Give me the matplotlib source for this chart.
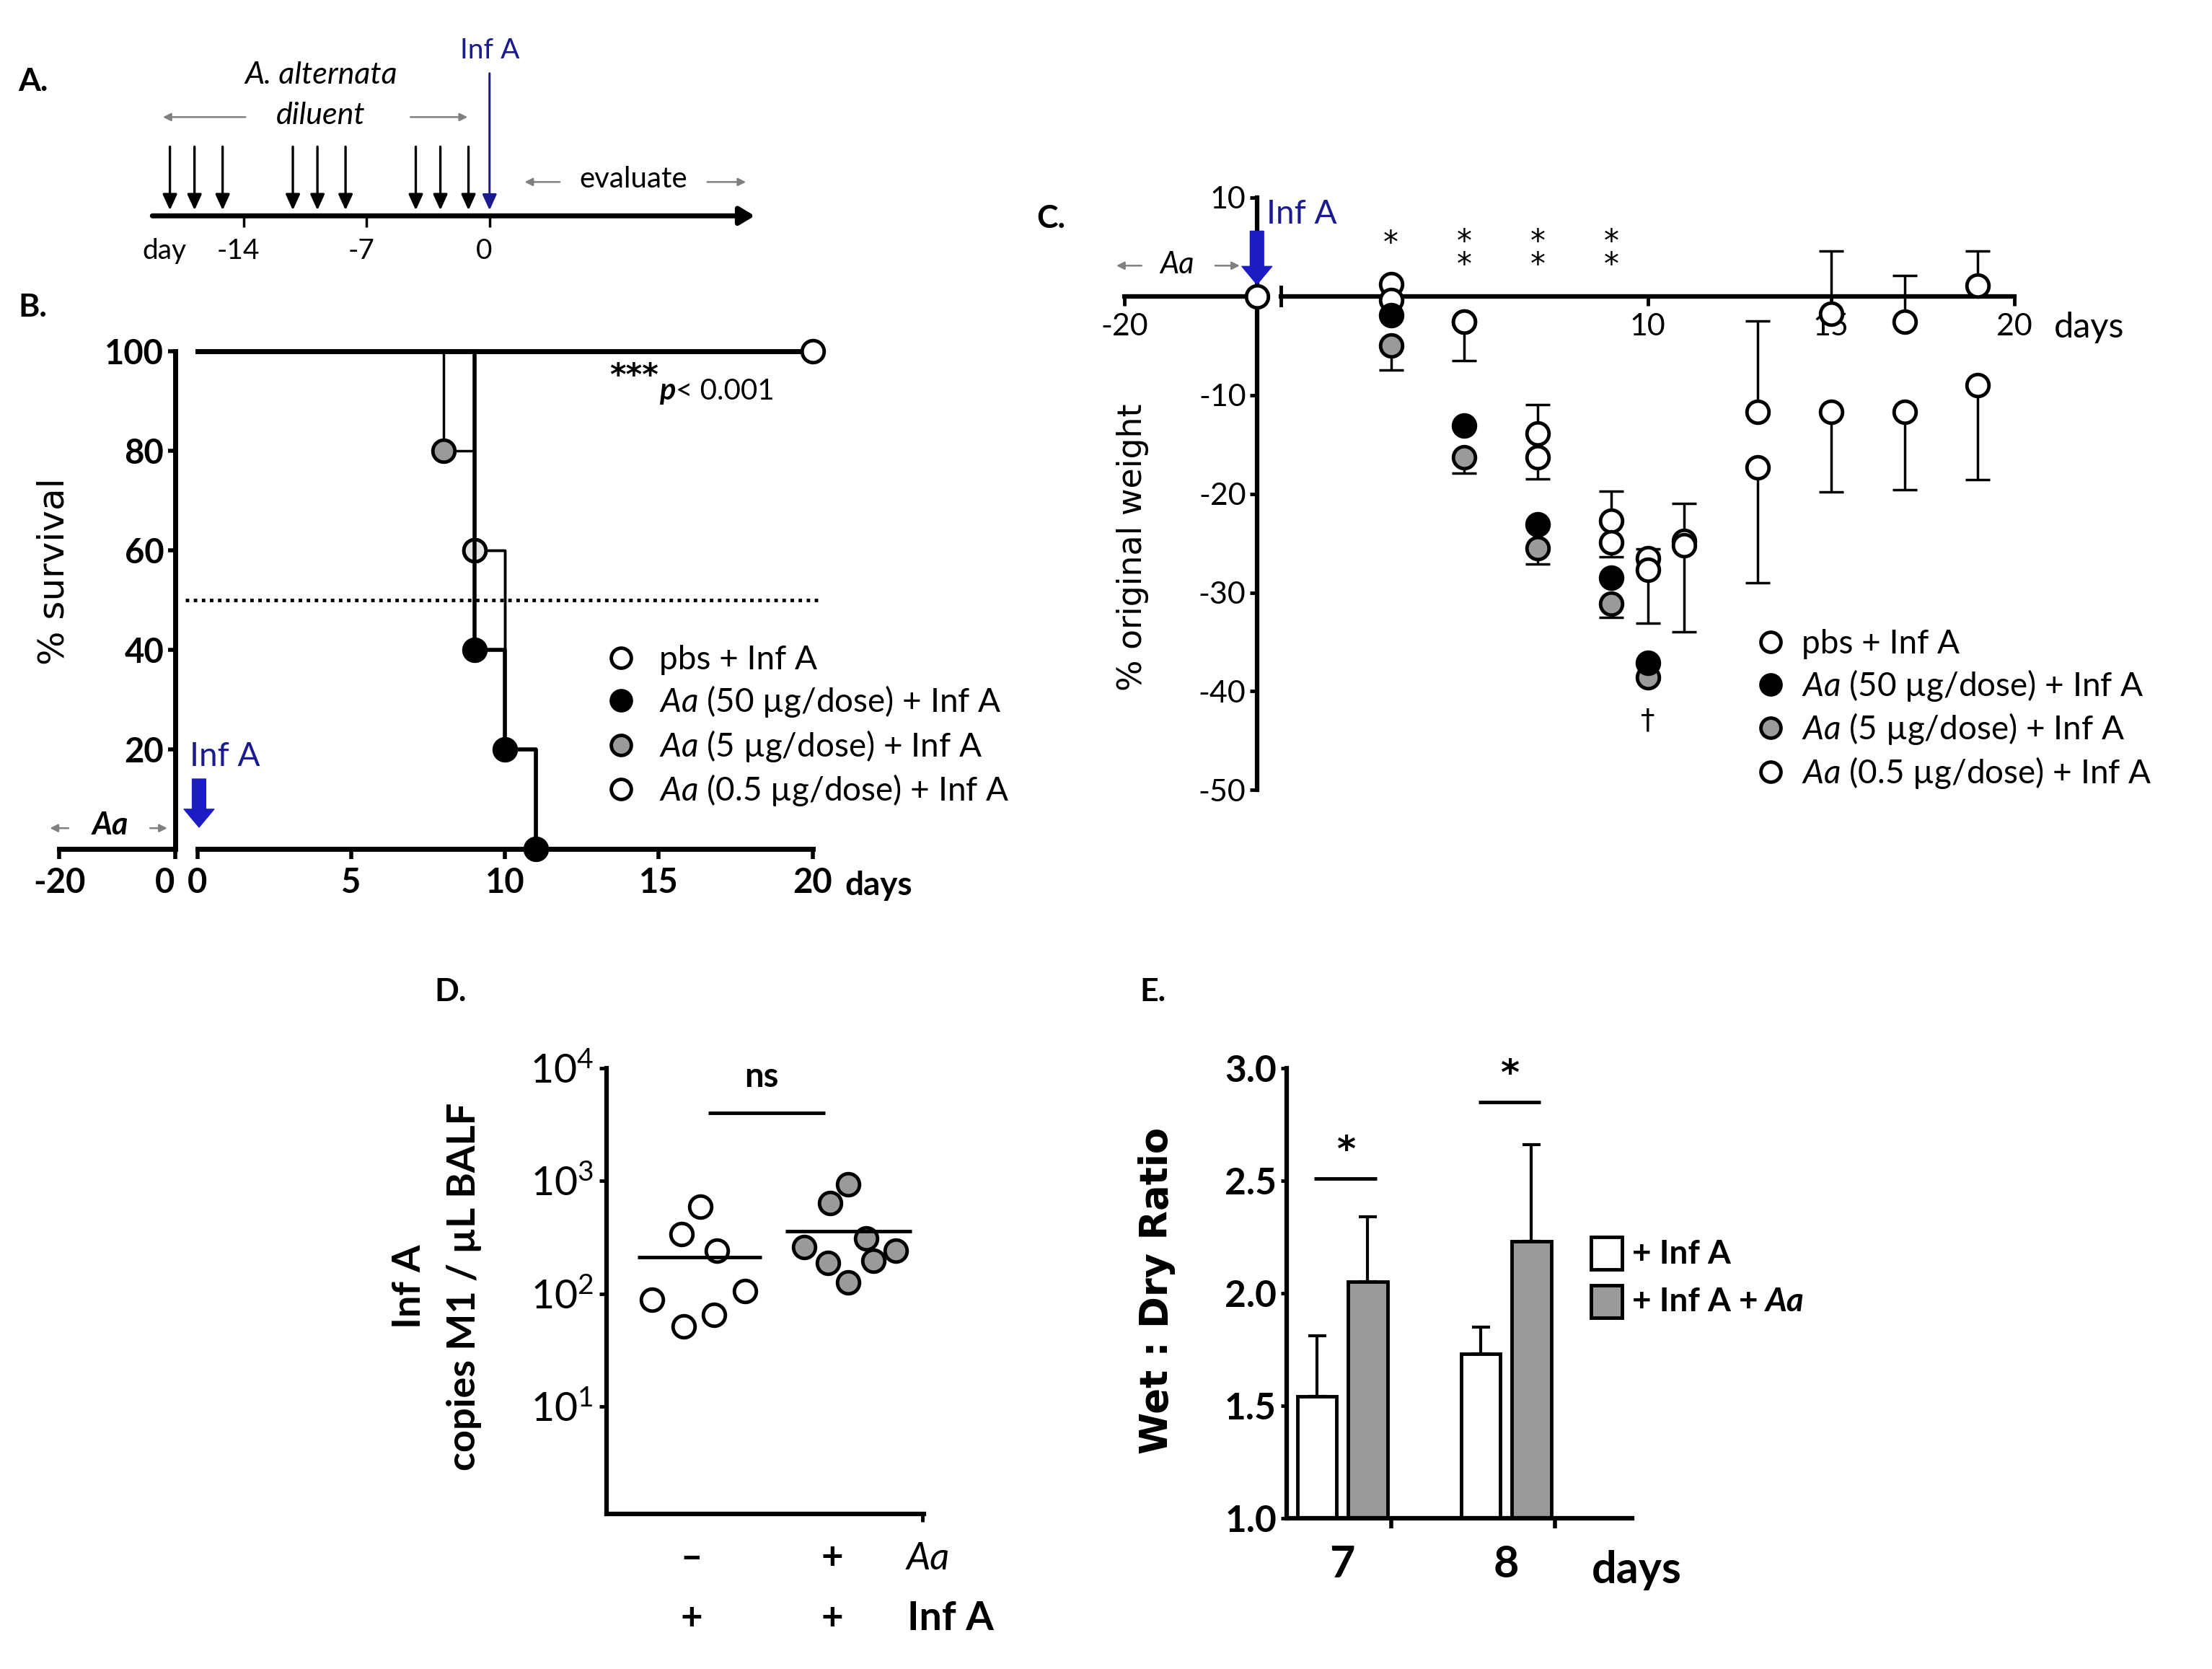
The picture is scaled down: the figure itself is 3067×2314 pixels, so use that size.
import matplotlib
matplotlib.use('Agg')
import matplotlib.pyplot as plt
import matplotlib.patches as ptc
from matplotlib.lines import Line2D
import numpy as np

plt.rcParams['font.family'] = ['Lato', 'DejaVu Sans']
plt.rcParams['mathtext.fontset'] = 'custom'
plt.rcParams['mathtext.rm'] = 'Lato'
plt.rcParams['mathtext.it'] = 'Lato:italic'
plt.rcParams['mathtext.bf'] = 'Lato:bold'
plt.rcParams['axes.unicode_minus'] = False

# ---- data ----
# A : dosing schedule (days)
dose_days = [-18.2, -16.8, -15.2, -11.2, -9.8, -8.2, -4.2, -2.8, -1.2]
inf_day = 0
sched_ticks = [-14, -7, 0]
sched_labels = ['-14', '-7', '0']

# B : survival (%)
surv_pbs_days = [0, 20]
surv_pbs = [100, 100]
surv_50_days = [0, 9, 10, 11]
surv_50 = [100, 40, 20, 0]
surv_5_days = [0, 8, 9, 10, 11]
surv_5 = [100, 80, 60, 20, 0]
surv_05_days = [0, 9, 10, 11]
surv_05 = [100, 60, 20, 0]

# C : % original weight
days_c = [0, 3, 5, 7, 9, 10, 11, 13, 15, 17, 19]
wt_pbs = [0, 1.2, -2.6, -13.9, -22.7, -26.5, -24.8, -11.7, -1.8, -2.6, 1.1]
wt_pbs_up = [0, 0, 0, 2.9, 3.0, 0.9, 3.8, 9.2, 6.4, 4.7, 3.5]
wt_05 = [0, -0.4, -2.6, -16.3, -24.9, -27.7, -25.2, -17.3, -11.7, -11.7, -9.0]
wt_05_dn = [0, 0, 3.9, 2.2, 1.5, 5.4, 8.8, 11.7, 8.1, 7.9, 9.6]
days_c_aa = [3, 5, 7, 9, 10]
wt_50 = [-1.9, -13.1, -23.1, -28.5, -37.1]
wt_5 = [-5.0, -16.3, -25.5, -31.1, -38.6]
wt_5_dn = [2.5, 1.6, 1.6, 1.4, 0]
star_days_1 = [3]
star_days_2 = [5, 7, 9]
dagger_day = 10

# D : Inf A copies M1 / uL BALF
infA_minus = [589, 339, 240, 89, 51, 65, 105]
infA_minus_dx = [0.065, -0.07, 0.18, -0.28, -0.055, 0.16, 0.38]
infA_plus = [936, 631, 257, 186, 126, 310, 197, 240]
infA_plus_dx = [0.11, -0.016, -0.2, -0.03, 0.11, 0.24, 0.29, 0.45]

# E : wet : dry ratio
e_days = ['7', '8']
wd_infA = [1.54, 1.73]
wd_infA_err = [0.27, 0.12]
wd_infA_aa = [2.05, 2.23]
wd_infA_aa_err = [0.29, 0.43]
e_sig_y = [2.51, 2.85]

# ---- layout helpers (reference grid 1568 x 1183) ----
W, H = 1568, 1183
PT = 1.408  # points per grid pixel


def box(x0, y0, x1, y1):
    return [x0 / W, 1 - y1 / H, (x1 - x0) / W, (y1 - y0) / H]


def fp(x, y):
    return (x / W, 1 - y / H)


fig = plt.figure(figsize=(30.67, 23.14), dpi=100)
BLUE = '#1c1cc4'
NAVY = '#1b1b8f'
GRAY = '#9a9a9a'


def garrow(ax, x0, x1, y, **kw):
    ax.annotate('', xy=(x1, y), xytext=(x0, y),
                arrowprops=dict(arrowstyle='-|>', color='#808080', lw=1.8,
                                mutation_scale=16, shrinkA=0, shrinkB=0), **kw)


def blue_arrow(ax, x, y0, y1):
    ax.annotate('', xy=(x, y1), xytext=(x, y0),
                arrowprops=dict(arrowstyle='simple,head_length=0.6,head_width=1.0,tail_width=0.45',
                                color=BLUE, mutation_scale=30, shrinkA=0, shrinkB=0),
                annotation_clip=False)


# ================= A =================
fig.text(*fp(13, 58), 'A.', fontsize=32, fontweight='bold', va='center')
axA = fig.add_axes(box(108, 20, 535, 200))
axA.set_xlim(-19.2, 15.1)
axA.set_ylim(200, 20)
axA.axis('off')
axA.annotate('', xy=(15.1, 153), xytext=(-19.2, 153),
             arrowprops=dict(arrowstyle='-|>,head_length=0.5,head_width=0.3', lw=5,
                             color='black', mutation_scale=25, shrinkA=0, shrinkB=0))
axA.vlines(sched_ticks, 153, 161, color='black', lw=2.5)
for d in dose_days:
    axA.annotate('', xy=(d, 149), xytext=(d, 104),
                 arrowprops=dict(arrowstyle='-|>,head_length=0.55,head_width=0.25', lw=2.4,
                                 color='black', mutation_scale=24, shrinkA=0, shrinkB=0))
axA.annotate('', xy=(inf_day, 149), xytext=(inf_day, 52),
             arrowprops=dict(arrowstyle='-|>,head_length=0.55,head_width=0.25', lw=2.2,
                             color=NAVY, mutation_scale=24, shrinkA=0, shrinkB=0))
axA.text(inf_day, 36, 'Inf A', color=NAVY, ha='center', va='center', fontsize=28)
axA.text(-9.6, 53, 'A. alternata', style='italic', ha='center', va='center', fontsize=31)
axA.text(-9.6, 82, 'diluent', style='italic', ha='center', va='center', fontsize=31)
garrow(axA, -13.9, -18.6, 83)
garrow(axA, -4.5, -1.25, 83)
axA.text(8.2, 127, 'evaluate', ha='center', va='center', fontsize=29)
garrow(axA, 4.0, 2.0, 129)
garrow(axA, 12.4, 14.6, 129)
axA.text(-18.5, 178, 'day', ha='center', va='center', fontsize=28)
for t, l in zip(sched_ticks, sched_labels):
    axA.text(t - 0.3, 178, l, ha='center', va='center', fontsize=28)

# ================= B =================
fig.text(*fp(13, 218), 'B.', fontsize=32, fontweight='bold', va='center')
axB = fig.add_axes(box(140, 249, 576, 601.5))
axBL = fig.add_axes(box(42, 249, 124, 601.5))
for a in (axB, axBL):
    a.set_ylim(0, 100)
    a.patch.set_alpha(0)
    a.spines[['top', 'right']].set_visible(False)
    a.spines['bottom'].set_linewidth(5)
    a.tick_params(axis='x', direction='out', length=10, width=4, labelsize=34, pad=8)
axB.set_xlim(0, 20)
axBL.set_xlim(-20, 0)
axBL.spines['left'].set_visible(False)
axBL.set_yticks([])
axB.spines['left'].set_position(('outward', 16 * PT))
axB.spines['left'].set_linewidth(5)
axB.set_yticks([20, 40, 60, 80, 100])
axB.tick_params(axis='y', direction='out', length=7, width=4, labelsize=34, pad=4)
axB.set_xticks([0, 5, 10, 15, 20])
axBL.set_xticks([-20, 0])
for a in (axB, axBL):
    for lab in a.get_xticklabels() + a.get_yticklabels():
        lab.set_fontweight('bold')
axBL.get_xticklabels()[1].set_horizontalalignment('right')

axB.hlines(50, -0.4, 20.2, colors='black', linestyles=(0, (1, 1.3)), lw=3.5, clip_on=False)
mk = dict(marker='o', ms=22, mew=3.5, mec='black', clip_on=False)
axB.plot(surv_pbs_days, surv_pbs, drawstyle='steps-post', color='black', lw=5,
         mfc='white', markevery=[1], zorder=4, **mk)
axB.plot(surv_5_days, surv_5, drawstyle='steps-post', color='black', lw=2.5,
         mfc=GRAY, markevery=[1, 2], zorder=3, **mk)
axB.plot(surv_05_days, surv_05, drawstyle='steps-post', color='black', lw=2.5,
         mfc='#e6e6e6', markevery=[1], zorder=3, **mk)
axB.plot(surv_50_days, surv_50, drawstyle='steps-post', color='black', lw=4,
         mfc='black', markevery=[1, 2, 3], zorder=4, **mk)

t1 = axB.text(13.4, 93.2, '***', fontsize=31, fontweight='bold', ha='left', va='baseline',
              family='DejaVu Sans')
t2 = axB.annotate('p', xy=(1, 0), xycoords=t1, xytext=(1, -8), textcoords='offset points',
                  fontsize=30, fontweight='bold', style='italic', ha='left', va='baseline')
axB.annotate('< 0.001', xy=(1, 0), xycoords=t2, xytext=(0, 0), textcoords='offset points',
             fontsize=29, ha='left', va='bottom')
fig.text(*fp(623, 628), 'days', fontsize=33, fontweight='bold', ha='center', va='center')
fig.text(*fp(38, 405), '% survival', fontsize=36, rotation=90, family='DejaVu Sans',
         ha='center', va='center')

axB.text(-0.25, 18.5, 'Inf A', color=NAVY, fontsize=33, ha='left', va='center')
blue_arrow(axB, 0.05, 14, 4.3)
fig.text(*fp(78, 585), 'Aa', fontsize=31, style='italic', fontweight='bold', ha='center', va='center')
for xa, xb in [(50, 34), (105, 120)]:
    fig.add_artist(ptc.FancyArrowPatch(fp(xa, 587), fp(xb, 587), transform=fig.transFigure,
                                       arrowstyle='-|>', color='#808080', lw=1.8, mutation_scale=16))

legB = [Line2D([], [], ls='', marker='o', ms=20, mew=3.5, mec='black', mfc=c)
        for c in ['white', 'black', GRAY, 'white']]
labB = ['pbs + Inf A', r'$\it{Aa}$ (50 µg/dose) + Inf A',
        r'$\it{Aa}$ (5 µg/dose) + Inf A', r'$\it{Aa}$ (0.5 µg/dose) + Inf A']
axB.legend(legB, labB, loc='upper left', bbox_to_anchor=fp(432, 457),
           bbox_transform=fig.transFigure, frameon=False, fontsize=33,
           handlelength=0.7, handletextpad=0.8, labelspacing=0.27, borderpad=0, borderaxespad=0)

# ================= C =================
fig.text(*fp(735, 155), 'C.', fontsize=32, fontweight='bold', va='center')
axC = fig.add_axes(box(908, 140, 1428, 560))
axCL = fig.add_axes(box(797, 140, 891, 560))
for a in (axC, axCL):
    a.set_ylim(-50, 10)
    a.patch.set_alpha(0)
    a.spines[['top', 'right']].set_visible(False)
    a.spines['bottom'].set_position(('data', 0))
    a.spines['bottom'].set_linewidth(4.5)
    a.tick_params(axis='x', direction='out', length=9, width=3.5, labelsize=31, pad=8)
axC.set_xlim(0, 20)
axCL.set_xlim(-20, 0)
axCL.spines['left'].set_visible(False)
axCL.set_yticks([])
axC.spines['left'].set_position(('outward', 17 * PT))
axC.spines['left'].set_linewidth(4.5)
axC.set_yticks([-50, -40, -30, -20, -10, 0, 10])
axC.set_yticklabels(['-50', '-40', '-30', '-20', '-10', '', '10'])
axC.tick_params(axis='y', direction='out', length=7, width=3.5, labelsize=31, pad=4)
axC.set_xticks([10, 15, 20])
axCL.set_xticks([-20])
axC.plot([0, 0], [-0.9, 0.9], color='black', lw=3.5, clip_on=False)

eb = dict(fmt='none', ecolor='black', elinewidth=2.5, capsize=12, capthick=2.5, clip_on=False)
up = np.array(wt_pbs_up)
dn = np.array(wt_05_dn)
axC.errorbar(days_c[1:], wt_pbs[1:], yerr=[np.zeros(len(up) - 1), up[1:]], **eb)
axC.errorbar(days_c[1:], wt_05[1:], yerr=[dn[1:], np.zeros(len(dn) - 1)], **eb)
axC.errorbar(days_c_aa, wt_5, yerr=[wt_5_dn, np.zeros(len(wt_5_dn))], **eb)
mkc = dict(ls='', marker='o', ms=22, mew=3.5, mec='black', clip_on=False)
axC.plot(days_c[1:], wt_pbs[1:], mfc='white', zorder=3, **mkc)
axC.plot(days_c[1:], wt_05[1:], mfc='white', zorder=3, **mkc)
axC.plot(days_c_aa, wt_5, mfc=GRAY, zorder=4, **mkc)
axC.plot(days_c_aa, wt_50, mfc='black', zorder=5, **mkc)
axCL.plot(days_c[:1], wt_pbs[:1], mfc='white', zorder=5, **mkc)

for d in star_days_1:
    axC.text(d, 5.3, '*', fontsize=30, ha='center', va='center', family='DejaVu Sans')
for d in star_days_2:
    axC.text(d, 4.3, '*\n*', fontsize=30, ha='center', va='center', family='DejaVu Sans',
             linespacing=0.68)
axC.text(dagger_day, -43.0, '†', fontsize=28, ha='center', va='center', family='DejaVu Sans')

axC.text(-0.4, 8.3, 'Inf A', color=NAVY, fontsize=33, ha='left', va='center')
blue_arrow(axCL, 0, 6.6, 1.2)
axCL.text(-12, 3.2, 'Aa', fontsize=30, style='italic', ha='center', va='center')
garrow(axCL, -17.4, -21.2, 3.1, annotation_clip=False)
garrow(axCL, -6.3, -2.6, 3.1, annotation_clip=False)
fig.text(*fp(1481, 232), 'days', fontsize=35, ha='center', va='center')
fig.text(*fp(803, 388), '% original weight', fontsize=33, rotation=90, family='DejaVu Sans',
         ha='center', va='center')

legC = [Line2D([], [], ls='', marker='o', ms=20, mew=3.5, mec='black', mfc=c)
        for c in ['white', 'black', GRAY, 'white']]
axC.legend(legC, labB, loc='upper left', bbox_to_anchor=fp(1247, 446),
           bbox_transform=fig.transFigure, frameon=False, fontsize=33,
           handlelength=0.7, handletextpad=0.58, labelspacing=0.25, borderpad=0, borderaxespad=0)

# ================= D =================
fig.text(*fp(308, 703), 'D.', fontsize=32, fontweight='bold', va='center')
axD = fig.add_axes(box(430, 757, 655, 1073))
axD.set_yscale('log')
axD.set_ylim(1.12, 1e4)
axD.set_xlim(-0.6, 1.65)
axD.spines[['top', 'right']].set_visible(False)
axD.spines[['left', 'bottom']].set_linewidth(4.5)
axD.set_yticks([10, 100, 1000, 10000])
axD.yaxis.set_minor_locator(matplotlib.ticker.NullLocator())
axD.tick_params(axis='y', direction='out', length=7, width=3.5, labelsize=40, pad=6)
axD.set_xticks([1.64])
axD.set_xticklabels([''])
axD.tick_params(axis='x', direction='out', length=8, width=3.5)
mkd = dict(ls='', marker='o', ms=22, mew=3.5, mec='black', clip_on=False)
axD.plot(0 + np.array(infA_minus_dx), infA_minus, mfc='white', **mkd)
axD.plot(1 + np.array(infA_plus_dx), infA_plus, mfc=GRAY, **mkd)
axD.hlines(np.mean(infA_minus), 0 - 0.38, 0 + 0.5, colors='black', lw=3.5, zorder=4)
axD.hlines(np.mean(infA_plus), 1 - 0.33, 1 + 0.56, colors='black', lw=3.5, zorder=4)
axD.hlines(3981, 0.12, 0.95, colors='black', lw=3.5)
axD.text(0.5, 8300, 'ns', fontsize=34, fontweight='bold', ha='center', va='center')
tr = axD.get_xaxis_transform()
for x, a_lab, i_lab in [(0, '–', '+'), (1, '+', '+')]:
    axD.text(x, -0.10, a_lab, transform=tr, fontsize=38, fontweight='bold', ha='center', va='center')
    axD.text(x, -0.235, i_lab, transform=tr, fontsize=38, fontweight='bold', ha='center', va='center')
axD.text(1.68, -0.10, 'Aa', transform=tr, fontsize=38, style='italic', ha='center', va='center')
axD.text(1.84, -0.235, 'Inf A', transform=tr, fontsize=40, fontweight='bold', ha='center', va='center')
fig.text(*fp(290, 912), 'Inf A', fontsize=39, fontweight='bold', rotation=90, ha='center', va='center')
fig.text(*fp(329, 912), 'copies M1 / µL BALF', fontsize=39, fontweight='bold', rotation=90,
         ha='center', va='center')

# ================= E =================
fig.text(*fp(808, 703), 'E.', fontsize=32, fontweight='bold', va='center')
axE = fig.add_axes(box(912, 757, 1157, 1076))
xpos = np.arange(len(e_days))
axE.set_ylim(1, 3)
axE.set_xlim(-0.34, 1.77)
axE.spines[['top', 'right']].set_visible(False)
axE.spines[['left', 'bottom']].set_linewidth(4.5)
axE.bar(xpos - 0.155, wd_infA, width=0.24, color='white', edgecolor='black', lw=3.5, zorder=2)
axE.bar(xpos + 0.155, wd_infA_aa, width=0.24, color=GRAY, edgecolor='black', lw=3.5, zorder=2)
ebe = dict(fmt='none', ecolor='black', elinewidth=3, capsize=9, capthick=3, zorder=1)
axE.errorbar(xpos - 0.155, wd_infA, yerr=[np.zeros(2), wd_infA_err], **ebe)
axE.errorbar(xpos + 0.155, wd_infA_aa, yerr=[np.zeros(2), wd_infA_aa_err], **ebe)
for x, y in zip(xpos, e_sig_y):
    axE.hlines(y, x - 0.17, x + 0.21, colors='black', lw=3.5)
    axE.text(x + 0.02, y + 0.12, '*', fontsize=36, fontweight='bold', ha='center', va='center',
             family='DejaVu Sans')
axE.set_yticks([1.0, 1.5, 2.0, 2.5, 3.0])
axE.set_yticklabels(['1.0', '1.5', '2.0', '2.5', '3.0'], fontweight='bold')
axE.tick_params(axis='y', direction='out', length=6, width=3.5, labelsize=37, pad=4)
axE.set_xticks(xpos)
axE.set_xticklabels(e_days, fontweight='bold')
axE.tick_params(axis='x', which='major', length=0, labelsize=44, pad=26)
axE.set_xticks(xpos + 0.3, minor=True)
axE.tick_params(axis='x', which='minor', direction='out', length=10, width=4)
fig.text(*fp(1160, 1113), 'days', fontsize=44, fontweight='bold', ha='center', va='center')
fig.text(*fp(820, 915), 'Wet : Dry Ratio', fontsize=38, fontweight='bold', rotation=90,
         family='DejaVu Sans', ha='center', va='center')

# legend for E drawn by hand (boxes + texts)
for yb, fc in [(877, 'white'), (911, GRAY)]:
    fig.add_artist(ptc.Rectangle(fp(1128, yb + 23), 22 / W, 23 / H, transform=fig.transFigure,
                                 facecolor=fc, edgecolor='black', lw=3.5))
fig.text(*fp(1157, 889), '+ Inf A', fontsize=33, fontweight='bold', ha='left', va='center')
te = fig.text(*fp(1157, 923), '+ Inf A +', fontsize=33, fontweight='bold', ha='left', va='center')
fig.texts.append(matplotlib.text.Annotation(
    'Aa', xy=(1, 0.5), xycoords=te, xytext=(7, 0), textcoords='offset points',
    fontsize=33, fontweight='bold', style='italic', ha='left', va='center'))
fig.texts[-1].set_figure(fig)

fig.savefig('out.png', dpi=100)
